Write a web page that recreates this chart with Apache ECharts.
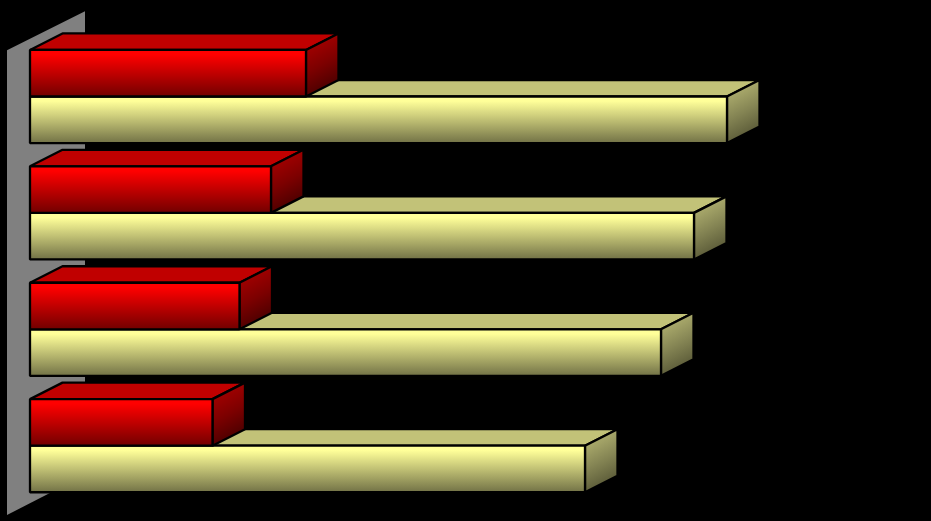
<!DOCTYPE html>
<html>
<head>
<meta charset="utf-8">
<style>html,body{margin:0;padding:0;background:#000}#c{width:931px;height:521px}</style>
<script src="https://cdn.jsdelivr.net/npm/echarts@6/dist/echarts.min.js"></script>
</head>
<body>
<div id="c"></div>
<script>
const categories = ['1', '2', '3', '4'];
const redValues = [276, 241, 209.5, 182.5];
const yellowValues = [697, 664, 631, 555];

const DX = 32.5, DY = -16.5;

function grad(x2, y2, stops) {
  return new echarts.graphic.LinearGradient(0, 0, x2, y2, stops.map((c) => ({ offset: c[0], color: c[1] })));
}
const red = {
  front: grad(0, 1, [[0, '#ff0000'], [0.12, '#ff0000'], [1, '#6e0000']]),
  top: '#c00000',
  side: grad(1, 1, [[0, '#b80000'], [0.5, '#7c0000'], [1, '#300000']])
};
const yellow = {
  front: grad(0, 1, [[0, '#ffff99'], [0.12, '#ffff99'], [1, '#6e6e44']]),
  top: '#c2c278',
  side: grad(1, 1, [[0, '#c4c47c'], [0.5, '#858554'], [1, '#424228']])
};

function bar3d(palette, side) {
  return function (params, api) {
    const v = api.value(0), cat = api.value(1);
    const c0 = api.coord([0, cat]);
    const c1 = api.coord([v, cat]);
    const h = api.size([0, 1])[1] * 0.4;
    const x0 = c0[0], x1 = c1[0];
    const y0 = side < 0 ? c0[1] - h : c0[1];
    const y1 = y0 + h;
    const line = { stroke: '#000', lineWidth: 2.3, lineJoin: 'bevel' };
    return {
      type: 'group',
      children: [
        { type: 'polygon', shape: { points: [[x0, y0], [x0 + DX, y0 + DY], [x1 + DX, y0 + DY], [x1, y0]] },
          style: Object.assign({ fill: palette.top }, line) },
        { type: 'polygon', shape: { points: [[x1, y0], [x1 + DX, y0 + DY], [x1 + DX, y1 + DY], [x1, y1]] },
          style: Object.assign({ fill: palette.side }, line) },
        { type: 'rect', shape: { x: x0, y: y0, width: x1 - x0, height: h },
          style: Object.assign({ fill: palette.front }, line) }
      ]
    };
  };
}

function wall(params, api) {
  const cs = params.coordSys;
  const l = cs.x - 23, r = cs.x + 55;
  const top = cs.y + 12, bottom = cs.y + cs.height + 11;
  return {
    type: 'polygon',
    shape: { points: [[l, top], [r, top - 39], [r, bottom - 40], [l, bottom]] },
    style: { fill: '#808080', stroke: 'none' }
  };
}

const chart = echarts.init(document.getElementById('c'), null, { renderer: 'canvas' });
chart.setOption({
  animation: false,
  backgroundColor: '#000',
  grid: { left: 30, top: 38.3, width: 800, height: 465.6 },
  xAxis: { type: 'value', min: 0, max: 800, show: false },
  yAxis: { type: 'category', data: categories, inverse: true, show: false },
  series: [
    { type: 'custom', z: 1, clip: false, silent: true, renderItem: wall, data: [[0, 0]], encode: { x: 0, y: 1 } },
    { type: 'custom', z: 2, clip: false, renderItem: bar3d(yellow, 1),
      data: yellowValues.map((v, i) => [v, i]), encode: { x: 0, y: 1 } },
    { type: 'custom', z: 3, clip: false, renderItem: bar3d(red, -1),
      data: redValues.map((v, i) => [v, i]), encode: { x: 0, y: 1 } }
  ]
});
</script>
</body>
</html>
